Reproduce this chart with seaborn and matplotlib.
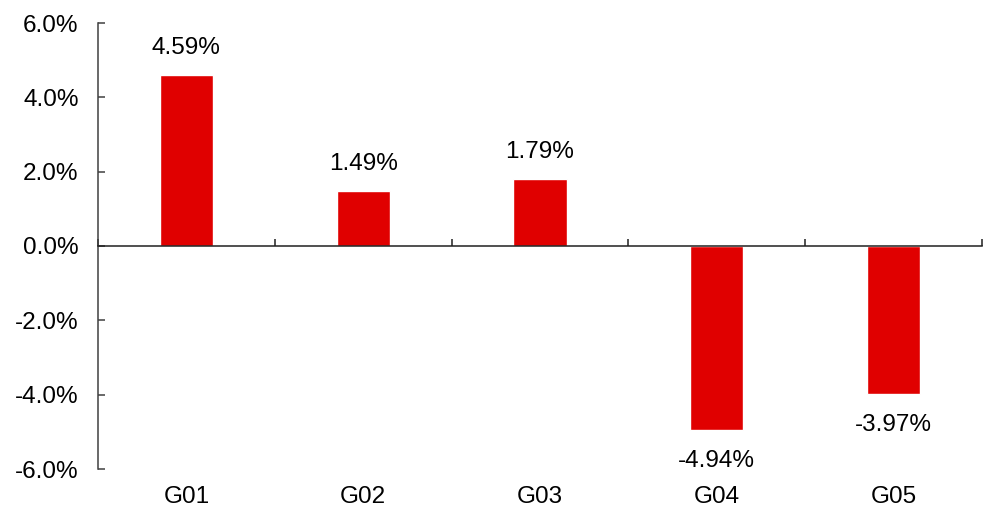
import matplotlib
matplotlib.use("Agg")
import matplotlib.pyplot as plt
import seaborn as sns
import pandas as pd

groups = ["G01", "G02", "G03", "G04", "G05"]
returns = [4.59, 1.49, 1.79, -4.94, -3.97]
yticks = [-6, -4, -2, 0, 2, 4, 6]

sns.set_style("white")
plt.rcParams["font.family"] = ["Liberation Sans", "DejaVu Sans"]
plt.rcParams["text.color"] = "black"
plt.rcParams["xtick.color"] = "black"
plt.rcParams["ytick.color"] = "black"

FS = 17.5

df = pd.DataFrame({"group": groups, "ret": returns})

fig = plt.figure(figsize=(9.96, 5.22), dpi=100)
ax = fig.add_axes([98 / 996, 1 - 469 / 522, (982 - 98) / 996, (469 - 23) / 522])

sns.barplot(data=df, x="group", y="ret", color="#E00000", width=0.3,
            saturation=1, ax=ax)

ax.set_xlim(-0.5, len(groups) - 0.5)
ax.set_ylim(-6, 6)
ax.set_yticks(yticks)
ax.set_yticklabels([f"{v:.1f}%" for v in yticks], fontsize=FS)
ax.tick_params(axis="y", left=True, direction="in", length=5, width=1.1,
               color="#404040", labelcolor="black", pad=14)
ax.set_xlabel("")
ax.set_ylabel("")

# zero line with boundary ticks
for s in ["top", "right"]:
    ax.spines[s].set_visible(False)
ax.spines["left"].set_color("#404040")
ax.spines["left"].set_linewidth(1.1)
ax.spines["bottom"].set_position(("data", 0))
ax.spines["bottom"].set_color("#202020")
ax.spines["bottom"].set_linewidth(1.1)
bounds = [i + 0.5 for i in range(-1, len(groups))]
ax.set_xticks(bounds)
ax.set_xticklabels([])
ax.tick_params(axis="x", bottom=True, direction="in", length=5, width=1.1, color="#202020")

# category labels at the bottom
sec = ax.secondary_xaxis("bottom")
sec.set_xticks(range(len(groups)))
sec.set_xticklabels(groups, fontsize=FS, color="black")
sec.tick_params(length=0, pad=12)
sec.spines["bottom"].set_visible(False)

for i, v in enumerate(returns):
    ax.annotate(f"{v:.2f}%", xy=(i, v), xytext=(0, 19.5 if v > 0 else -22.5),
                textcoords="offset points", ha="center", va="center",
                fontsize=FS, color="black")

fig.savefig("out.png", dpi=100)
